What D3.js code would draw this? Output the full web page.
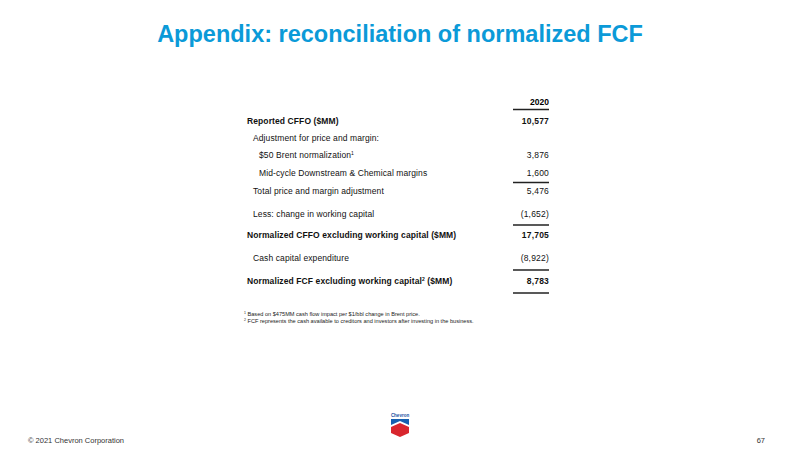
<!DOCTYPE html>
<html><head><meta charset="utf-8">
<script src="https://cdn.jsdelivr.net/npm/d3@7"></script>
<style>body{margin:0;background:#fff}svg{font-family:"Liberation Sans",Arial,sans-serif}</style>
</head><body><div id="content"></div>
<script>
const labels = ["Reported CFFO ($MM)", "Adjustment for price and margin:", "$50 Brent normalization", "Mid-cycle Downstream & Chemical margins",
  "Total price and margin adjustment", "Less: change in working capital", "Normalized CFFO excluding working capital  ($MM)",
  "Cash capital expenditure", "Normalized FCF excluding working capital", ];
const values = ["10,577", "", "3,876", "1,600", "5,476", "(1,652)", "17,705", "(8,922)", "8,783"];
const sup = ["", "", "1", "", "", "", "", "", "2"];
const suffix = ["", "", "", "", "", "", "", "", " ($MM)"];
const bold = [true, false, false, false, false, false, true, false, true];
const indent = [0, 1, 2, 2, 1, 1, 0, 1, 0];
const rowY = [121, 138, 155, 173, 191, 214, 235, 258, 281];
const rulesAfter = [3, 5, 7]; // underline after these rows
const notes = ["Based on $475MM cash flow impact per $1/bbl change in Brent price.",
  "FCF represents the cash available to creditors and investors after investing in the business."];

const svg = d3.select("#content").append("svg").attr("width", 800).attr("height", 450);
svg.append("text").attr("x", 400).attr("y", 42).attr("text-anchor", "middle")
  .style("font-size", "23.5px").style("font-weight", "bold").style("fill", "#0b9ad8")
  .text("Appendix: reconciliation of normalized FCF");

const x = d3.scaleLinear().domain([0, 2]).range([247, 259]);
const valX = 549, ruleX0 = 513;
const rule = (y) => svg.append("line").attr("x1", ruleX0).attr("x2", valX).attr("y1", y).attr("y2", y)
  .attr("stroke", "#222").attr("stroke-width", 1.4);

svg.append("text").attr("x", valX).attr("y", 105).attr("text-anchor", "end")
  .style("font-size", "8.5px").style("font-weight", "bold").text("2020");
rule(109.5);

const rows = svg.selectAll("g.row").data(labels).enter().append("g")
  .attr("transform", (d, i) => `translate(0,${rowY[i] + 3})`);
const t = rows.append("text").attr("x", (d, i) => x(indent[i]))
  .style("font-size", "8.5px").style("letter-spacing", "0.1px")
  .style("font-weight", (d, i) => bold[i] ? "bold" : "normal").style("fill", "#111");
t.append("tspan").text(d => d);
t.append("tspan").attr("dy", -3).style("font-size", "5px").text((d, i) => sup[i]);
t.append("tspan").attr("dy", (d, i) => sup[i] ? 3 : 0).text((d, i) => suffix[i]);
rows.append("text").attr("x", valX).attr("text-anchor", "end")
  .style("font-size", "8.5px").style("letter-spacing", "0.2px")
  .style("font-weight", (d, i) => bold[i] ? "bold" : "normal").style("fill", "#111")
  .text((d, i) => values[i]);

rulesAfter.forEach(i => rule((rowY[i] + rowY[i + 1]) / 2 + 0.5));
rule(293);

notes.forEach((n, i) => {
  const tx = svg.append("text").attr("x", 244).attr("y", 316 + i * 6.5).style("font-size", "5.6px").style("fill", "#222");
  tx.append("tspan").attr("dy", -2).style("font-size", "3.5px").text(i + 1);
  tx.append("tspan").attr("dy", 2).text(" " + n);
});

svg.append("text").attr("x", 28).attr("y", 443).style("font-size", "7.5px").style("fill", "#333").text("© 2021 Chevron Corporation");
svg.append("text").attr("x", 765).attr("y", 443).attr("text-anchor", "end").style("font-size", "7.5px").style("fill", "#333").text("67");

// logo
const lg = svg.append("g").attr("transform", "translate(400,420)");
lg.append("text").attr("y", -3).attr("text-anchor", "middle").style("font-size", "4.5px").style("font-weight", "bold").style("fill", "#1a4fa0").text("Chevron");
lg.append("path").attr("d", "M-9,-1 L9,-1 L9,5 L0,1 L-9,5 Z").attr("fill", "#1560b0");
lg.append("path").attr("d", "M-9,7 L0,3 L9,7 L9,13 L0,17 L-9,13 Z").attr("fill", "#d8262e");
</script></body></html>
